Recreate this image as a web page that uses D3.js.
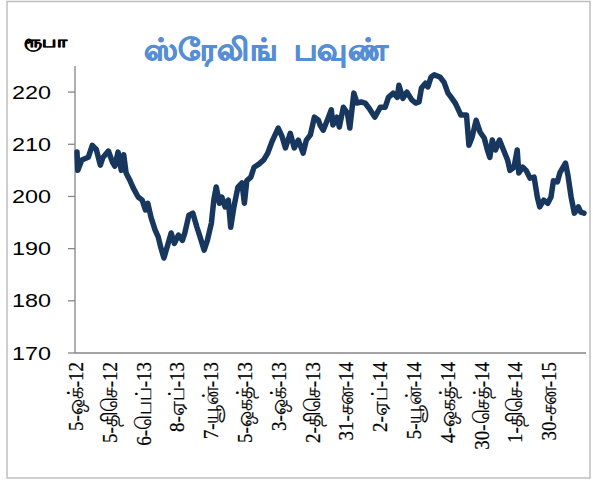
<!DOCTYPE html>
<html>
<head>
<meta charset="utf-8">
<script src="https://cdn.jsdelivr.net/npm/d3@7"></script>
<style>
  html, body { margin: 0; padding: 0; background: #fff; }
  svg { display: block; }
</style>
</head>
<body>
<div id="chart"></div>
<script>
// Sterling pound in rupees, daily rate. The chart is drawn as an Excel-style
// category axis: one slot per trading day, a date label every 42 slots.
const title = "ஸ்ரேலிங் பவுண்"
const unitLabel = "ரூபா"

const tickLabels = [
  "5-ஒக்-12", "5-திசெ-12", "6-பெப்-13", "8-ஏப்-13", "7-யூன்-13",
  "5-ஒகத்-13", "3-ஒக்-13", "2-திசெ-13", "31-சன-14", "2-ஏப்-14",
  "5-யூன்-14", "4-ஒகத்-14", "30-செத்-14", "1-திசெ-14", "30-சன-15",
]
const labelStep = 42

// trading-day slot of each sample, and the rate read at it
const dayIndex = [
  0, 1, 6, 14, 19, 24, 29, 32, 39, 44, 47, 51, 55, 58, 61, 66, 70, 76, 81, 85,
  88, 92, 97, 101, 104, 108, 112, 117, 121, 126, 131, 134, 139, 144, 149, 153, 158, 162, 167, 170,
  173, 177, 180, 184, 188, 191, 195, 200, 205, 208, 211, 216, 220, 226, 232, 237, 242, 250, 255, 259,
  265, 270, 275, 281, 285, 290, 295, 300, 302, 306, 312, 316, 318, 323, 326, 331, 336, 339, 344, 348,
  353, 358, 363, 370, 377, 383, 387, 393, 398, 400, 405, 410, 416, 421, 425, 428, 433, 436, 440, 444,
  451, 456, 461, 465, 470, 474, 477, 484, 487, 491, 496, 501, 506, 510, 513, 516, 520, 525, 530, 535,
  538, 543, 547, 549, 554, 558, 563, 568, 572, 575, 580, 585, 589, 592, 597, 600, 607, 610, 614, 618,
  623, 626, 630,
]
const rate = [
  208.5, 205.0, 207.0, 207.5, 209.8, 209.0, 206.0, 207.4, 208.7, 206.6, 205.8, 208.5, 205.0, 208.0, 204.5, 203.0, 201.6, 199.9, 199.3, 197.4,
  198.7, 196.0, 193.6, 192.2, 190.3, 188.2, 190.3, 193.0, 191.0, 192.6, 191.6, 193.0, 196.4, 196.8, 194.1, 192.2, 189.7, 191.6, 194.9, 199.3,
  201.8, 198.7, 199.9, 198.0, 199.3, 194.1, 198.0, 201.8, 202.6, 198.7, 203.0, 203.7, 205.6, 206.2, 207.0, 208.3, 210.4, 213.1, 211.4, 209.3,
  212.1, 209.3, 210.8, 208.3, 210.8, 211.8, 215.2, 214.6, 213.7, 212.7, 215.0, 216.6, 213.7, 215.2, 213.3, 217.1, 216.0, 213.1, 219.8, 217.9,
  218.1, 217.9, 216.9, 215.2, 217.1, 217.1, 219.0, 219.8, 219.0, 221.3, 218.8, 220.0, 218.5, 217.9, 218.1, 220.8, 221.7, 221.0, 222.9, 223.3,
  222.9, 221.9, 219.8, 219.0, 217.9, 216.6, 215.6, 215.6, 209.8, 211.4, 214.6, 212.3, 211.2, 208.9, 207.5, 210.8, 208.9, 210.8, 208.9, 207.0,
  205.0, 205.6, 208.9, 204.5, 205.6, 205.0, 203.5, 203.7, 199.9, 198.0, 199.3, 198.7, 199.9, 203.0, 202.8, 204.5, 206.4, 204.1, 199.9, 196.8,
  198.0, 197.0, 196.8,
]
const yTicks = [170, 180, 190, 200, 210, 220]

const W = 593, H = 482
// the source picture is stretched sideways, so text is widened to match
const stretch = 1.3

const svg = d3.select("#chart").append("svg")
  .attr("width", W).attr("height", H)

// outer chart frame
svg.append("rect")
  .attr("x", 7).attr("y", 1.5).attr("width", 583).attr("height", 476.5)
  .attr("fill", "#fff").attr("stroke", "#BFBFBF").attr("stroke-width", 1.5)

const x = d3.scaleLinear().domain([0, 630]).range([77, 584])
const y = d3.scaleLinear().domain([170, 225]).range([353, 66])

// title + unit (faux bold via stroke: the Tamil face has no bold cut)
svg.append("text")
  .attr("transform", `translate(266,60) scale(1.05,1)`)
  .attr("text-anchor", "middle")
  .attr("font-family", "'Noto Sans', 'DejaVu Sans', sans-serif")
  .attr("font-size", 30).attr("font-weight", 700)
  .attr("fill", "#558ED5").attr("stroke", "#558ED5").attr("stroke-width", 0.9)
  .attr("word-spacing", 8)
  .text(title)

svg.append("text")
  .attr("transform", `translate(24,47) scale(1.2,1)`)
  .attr("font-family", "'Noto Sans', 'DejaVu Sans', sans-serif")
  .attr("font-size", 16).attr("font-weight", 700)
  .attr("fill", "#000").attr("stroke", "#000").attr("stroke-width", 0.6)
  .text(unitLabel)

// y axis
const yAxis = svg.append("g")
yAxis.append("line")
  .attr("x1", 75).attr("x2", 75).attr("y1", y(225)).attr("y2", y(170))
  .attr("stroke", "#868686").attr("stroke-width", 1.3)
yAxis.selectAll("line.tick").data(yTicks).join("line")
  .attr("class", "tick")
  .attr("x1", 68).attr("x2", 75)
  .attr("y1", (d) => y(d)).attr("y2", (d) => y(d))
  .attr("stroke", "#868686").attr("stroke-width", 1.3)
yAxis.selectAll("text").data(yTicks).join("text")
  .attr("transform", (d) => `translate(51,${y(d) + 6.5}) scale(${stretch},1)`)
  .attr("text-anchor", "end")
  .attr("font-family", "'Liberation Sans', Arial, sans-serif")
  .attr("font-size", 18)
  .attr("fill", "#000")
  .text((d) => d)

// x axis
svg.append("line")
  .attr("x1", 75).attr("x2", 586).attr("y1", y(170)).attr("y2", y(170))
  .attr("stroke", "#868686").attr("stroke-width", 1.3)

svg.append("g").selectAll("text").data(tickLabels).join("text")
  .attr("transform", (_, i) =>
    `translate(${x(i * labelStep) + 6},362) scale(1.15,1) rotate(-90)`)
  .attr("text-anchor", "end")
  .attr("font-family", "'Liberation Serif', 'Times New Roman', serif")
  .attr("font-size", 19)
  .attr("fill", "#000").attr("stroke", "#000").attr("stroke-width", 0.2)
  .text((d) => d)

// rate line
const pts = dayIndex.map((d, i) => [d, rate[i]])
svg.append("path")
  .datum(pts)
  .attr("d", d3.line().x((d) => x(d[0])).y((d) => y(d[1])))
  .attr("fill", "none")
  .attr("stroke", "#17375E")
  .attr("stroke-width", 5.5)
  .attr("stroke-linejoin", "round")
  .attr("stroke-linecap", "round")
</script>
</body>
</html>
